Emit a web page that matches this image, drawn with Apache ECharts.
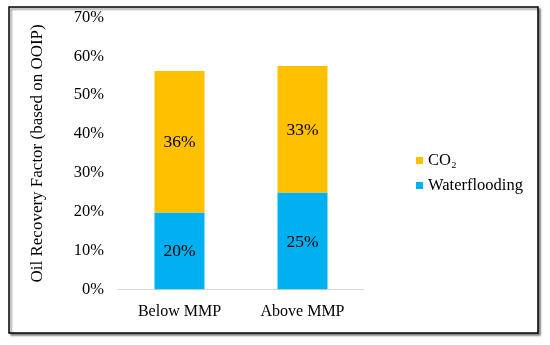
<!DOCTYPE html>
<html><head><meta charset="utf-8">
<script src="https://cdn.jsdelivr.net/npm/echarts@6/dist/echarts.min.js"></script>
<style>html,body{margin:0;padding:0;background:#fff}#c{width:550px;height:345px}</style>
</head><body><div id="c"></div>
<script>
const categories = ['Below MMP', 'Above MMP'];
const waterflooding = [19.8, 24.9];
const co2 = [36.4, 32.6];
const yTicks = [0, 10, 20, 30, 40, 50, 60, 70];

const chart = echarts.init(document.getElementById('c'));
const font = 'Liberation Serif, Times New Roman, serif';
const lbl = {show: true, position: 'inside', color: '#000', fontFamily: font, fontSize: 17.5,
  offset: [0, 1], formatter: p => Math.round(p.value) + '%'};
chart.setOption({
  animation: false,
  graphic: [{type: 'rect', shape: {x: 9, y: 7, width: 529, height: 326},
    style: {fill: '#fff', stroke: '#000', lineWidth: 1.5, shadowColor: 'rgba(0,0,0,0.45)', shadowOffsetX: 2, shadowOffsetY: 2, shadowBlur: 2}, z: -10}],
  grid: {left: 118, right: 186, top: 17.5, bottom: 55.7},
  legend: {orient: 'vertical', left: 411, top: 147, itemWidth: 7, itemHeight: 7, itemGap: 8,
    icon: 'rect', data: ['CO₂', 'Waterflooding'],
    textStyle: {fontFamily: font, fontSize: 16.5, color: '#000'}},
  xAxis: {type: 'category', data: categories,
    axisLine: {lineStyle: {color: '#d9d9d9', width: 1}}, axisTick: {show: false},
    axisLabel: {fontFamily: font, fontSize: 16, color: '#000', margin: 14}},
  yAxis: {type: 'value', min: yTicks[0], max: yTicks[yTicks.length - 1], interval: 10,
    name: 'Oil Recovery Factor (based on OOIP)', nameLocation: 'middle', nameGap: 72,
    nameTextStyle: {fontFamily: font, fontSize: 17, color: '#000'},
    axisLine: {show: false}, axisTick: {show: false}, splitLine: {show: false},
    axisLabel: {fontFamily: font, fontSize: 16.5, color: '#000', margin: 14, formatter: v => v + '%'}},
  series: [
    {name: 'Waterflooding', type: 'bar', stack: 'a', data: waterflooding, barWidth: 50,
      itemStyle: {color: '#00B0F0'}, label: lbl},
    {name: 'CO₂', type: 'bar', stack: 'a', data: co2, barWidth: 50,
      itemStyle: {color: '#FFC000'}, label: lbl}
  ]
});
</script></body></html>
